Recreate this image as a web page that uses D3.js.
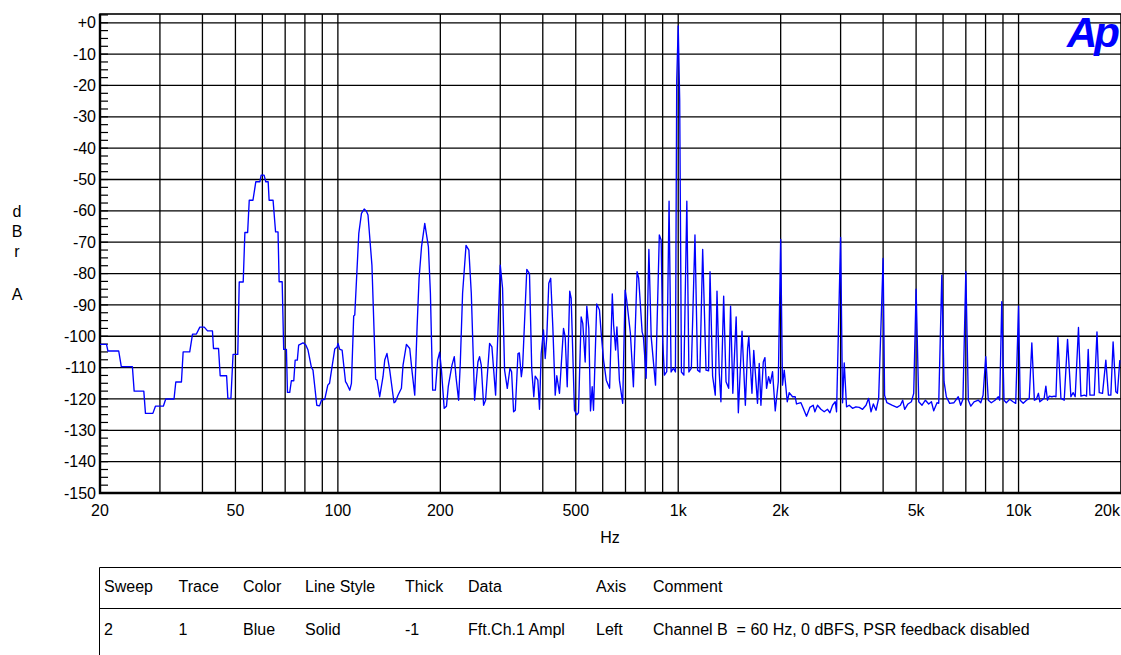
<!DOCTYPE html>
<html>
<head>
<meta charset="utf-8">
<script src="https://d3js.org/d3.v7.min.js"></script>
<style>
  body { margin: 0; background: #fff; }
  svg text { font-family: Arial, "Liberation Sans", sans-serif; font-size: 16px; fill: #000; }
</style>
</head>
<body>
<div id="chart"></div>
<script>
// FFT trace: frequency (Hz) and level (dBr A)
var traceHz = [20, 20.9, 21.1, 22.7, 23.1, 24.9, 25.2, 26.9, 27.2, 28.6, 29.1, 30.7, 31.2, 33.0, 33.4, 34.7, 35.1, 36.7, 37.4, 38.4,
  39.3, 40.5, 41.4, 42.8, 43.1, 44.6, 45.1, 47.1, 47.5, 48.5, 49.2, 50.8, 51.3, 52.7, 53.3, 54.3, 54.9, 56.3, 57.4, 59.0,
  59.5, 60.7, 61.4, 62.4, 62.8, 64.5, 65.6, 66.7, 67.2, 68.6, 69.3, 70.6, 71.1, 72.2, 73.0, 74.2, 74.9, 76.0, 76.7, 79.0,
  80.5, 81.7, 83.6, 84.5, 86.7, 88.3, 89.5, 91.5, 93.4, 94.5, 97.9, 99.5, 100.1, 101.3, 102.9, 105.3, 106.4, 108.4, 109.6, 111.3,
  112.1, 115.2, 117.3, 119.5, 121.3, 122.6, 125.9, 129.1, 130.3, 132.7, 135.7, 137.3, 139.4, 142.0, 146.2, 147.6, 150.2, 153.7, 155.4, 159.0,
  162.6, 165.2, 168.2, 170.9, 173.2, 176.1, 180, 184.5, 187.0, 189.9, 193.4, 196.4, 199.1, 201.5, 205.3, 208.5, 211.0, 216.4, 219.8, 222.3,
  226.3, 228.9, 232.5, 238, 242.6, 246.6, 252.2, 257.9, 260.8, 263.8, 268.0, 271.6, 279.1, 283.5, 290.7, 295.2, 300, 304.7, 308.9, 314.6,
  320.4, 323.9, 328.3, 332.1, 338.2, 341.3, 346.0, 349.0, 359, 365.6, 371.3, 376.4, 380.0, 386.8, 391.2, 395.7, 401.9, 406.6, 411.0, 416.6,
  422, 428.1, 435.1, 439.8, 447.9, 460.2, 465.5, 471.9, 480, 484.7, 495.6, 503.4, 509.2, 518.6, 524.3, 532.9, 538.7, 546.1, 552.4, 558.8,
  563.8, 576.2, 587.0, 593.9, 603.4, 614.6, 628.6, 640.2, 645.9, 654.7, 660.5, 671.7, 686.9, 698.1, 705.7, 723.6, 738.5, 757.1, 765.3, 783.3,
  790.3, 805.0, 820, 832.9, 857.6, 880, 891, 900.6, 911, 925.3, 940, 953, 968, 981.3, 990, 1000, 1010, 1021.9, 1039, 1060,
  1075, 1093, 1120, 1140, 1158, 1180, 1207, 1228, 1240, 1262, 1285, 1300, 1320, 1335, 1360, 1382, 1407, 1425, 1447, 1480,
  1502, 1530, 1540, 1575, 1599, 1612, 1647, 1667, 1710, 1730, 1750, 1778, 1798, 1818, 1843, 1864, 1893, 1928, 1968, 2000,
  2025, 2049, 2091, 2119, 2167, 2207, 2226, 2294, 2330, 2382, 2437, 2492, 2521, 2566, 2626, 2685, 2746, 2791, 2841, 2893,
  2919, 3000, 3040, 3075, 3123, 3180, 3252, 3328, 3404, 3481, 3563, 3626, 3686, 3744, 3813, 3881, 4000, 4040, 4104, 4246,
  4393, 4495, 4566, 4628, 4733, 4843, 4920, 5000, 5090, 5204, 5325, 5445, 5546, 5633, 5760, 5827, 5950, 6041, 6135, 6275,
  6460, 6650, 6760, 6865, 7000, 7120, 7240, 7400, 7620, 7745, 7866, 8010, 8150, 8317, 8528, 8720, 8803, 8927, 9063, 9205,
  9420, 9633, 9810, 10000, 10110, 10320, 10550, 10750, 10940, 11130, 11280, 11440, 11550, 11700, 11890, 12030, 12160, 12300, 12530, 12730,
  12880, 13050, 13320, 13620, 13930, 14250, 14470, 14670, 15000, 15250, 15600, 15840, 16020, 16210, 16690, 17000, 17260, 17650, 18050, 18370,
  18670, 18960, 19310, 19520, 19840];

var traceDb = [-102.6, -102.6, -104.7, -104.7, -109.7, -109.7, -117.5, -117.5, -124.6, -124.6, -122.3, -122.3, -120.0, -120.0, -114.6, -114.6, -105.0, -105.0, -99.3, -99.3,
  -97.1, -97.1, -98.3, -98.3, -103.9, -103.9, -112.6, -112.6, -119.8, -119.8, -105.8, -105.8, -82.7, -82.7, -66.9, -66.9, -56.6, -56.6, -50.7, -50.7,
  -48.6, -48.6, -50.7, -50.7, -56.6, -56.6, -66.7, -66.7, -82.6, -82.6, -104.2, -104.2, -117.9, -117.9, -114.2, -114.2, -107.6, -107.6, -102.8, -102.1,
  -102.8, -104.4, -109.9, -110.8, -122.0, -122.2, -120.4, -120.1, -115.6, -115.0, -104.1, -103.4, -102.3, -104.2, -104.4, -114.5, -115.3, -117.2, -115.0, -93.5,
  -93.2, -67.2, -60.8, -59.4, -60.1, -61.3, -77.3, -113.7, -114.0, -119.3, -112.9, -107.6, -105.5, -110.8, -121.2, -120.9, -118.8, -116.6, -109.2, -102.6,
  -103.9, -111.3, -118.8, -97.0, -81.5, -71.5, -64.0, -71.5, -86.3, -117.2, -117.2, -107.6, -105.1, -110.8, -123.0, -122.3, -116.1, -109.2, -106.5, -112.9,
  -120.4, -108.7, -86.3, -71.0, -72.5, -86.3, -120.4, -108.2, -106.5, -109.2, -122.0, -120.4, -102.3, -103.4, -118.8, -99.1, -77.3, -84.7, -110.8, -116.6,
  -110.2, -111.3, -124.1, -123.6, -105.5, -105.3, -112.9, -109.7, -78.7, -80.0, -110.8, -119.3, -112.7, -114.0, -123.3, -105.5, -98.0, -107.1, -100.2, -83.1,
  -81.5, -97.0, -118.8, -112.6, -118.2, -97.5, -100.2, -116.1, -85.6, -87.9, -123.6, -125.1, -124.4, -93.8, -95.9, -108.2, -90.4, -97.5, -123.8, -116.1,
  -123.6, -89.7, -91.6, -99.1, -107.6, -114.0, -116.6, -86.5, -96.4, -104.4, -97.0, -114.0, -121.4, -85.3, -88.5, -99.1, -116.1, -79.4, -81.5, -98.6,
  -100.2, -113.4, -72.3, -100.2, -115.6, -67.7, -69.3, -101.8, -112.4, -111.3, -56.9, -111.4, -110.2, -111.4, -18.3, -1.0, -24.7, -111.4, -112.4, -56.9,
  -111.4, -110.2, -67.7, -110.8, -111.4, -72.3, -110.8, -111.0, -79.4, -112.7, -118.8, -85.6, -111.8, -120.9, -87.2, -114.5, -116.6, -90.4, -118.2, -93.8,
  -124.4, -105.0, -98.4, -122.0, -103.9, -100.2, -118.2, -104.5, -121.4, -108.7, -122.0, -108.2, -106.8, -116.6, -112.9, -115.0, -111.3, -123.8, -114.5, -69.1,
  -115.6, -110.8, -120.9, -118.0, -119.3, -119.3, -121.6, -121.2, -123.0, -125.5, -122.7, -122.0, -124.1, -122.0, -123.3, -124.1, -123.3, -124.4, -122.0, -120.9,
  -124.1, -68.5, -121.2, -108.5, -122.5, -122.0, -123.0, -122.5, -122.7, -123.3, -122.0, -119.8, -124.1, -121.6, -123.6, -119.8, -75.2, -118.8, -121.2, -122.0,
  -122.7, -122.0, -120.4, -123.3, -121.6, -120.9, -118.2, -85.0, -120.9, -122.0, -120.4, -121.6, -120.9, -123.8, -121.2, -121.4, -80.5, -114.5, -119.3, -121.4,
  -121.2, -119.3, -122.0, -120.1, -79.4, -120.4, -122.3, -120.9, -120.4, -121.2, -118.8, -106.5, -120.4, -121.2, -120.4, -119.3, -120.4, -89.0, -120.4, -121.2,
  -120.1, -120.9, -121.4, -90.4, -120.4, -121.4, -120.4, -119.8, -102.1, -120.4, -120.1, -118.2, -120.9, -120.4, -119.8, -115.9, -120.4, -119.1, -119.3, -119.1,
  -119.3, -100.4, -119.8, -120.4, -101.0, -119.3, -118.0, -119.3, -97.2, -119.1, -118.8, -119.1, -104.2, -118.8, -118.8, -98.6, -118.0, -118.2, -107.6, -118.8,
  -118.8, -101.8, -117.7, -118.2, -107.6];

var yTickDb = [0, -10, -20, -30, -40, -50, -60, -70, -80, -90, -100, -110, -120, -130, -140, -150];
var yTickLabels = ["+0", "-10", "-20", "-30", "-40", "-50", "-60", "-70", "-80", "-90", "-100", "-110", "-120", "-130", "-140", "-150"];
var xGridHz = [30, 40, 50, 60, 70, 80, 90, 100, 200, 300, 400, 500, 600, 700, 800, 900,
  1000, 2000, 3000, 4000, 5000, 6000, 7000, 8000, 9000, 10000];
var xLabelHz = [20, 50, 100, 200, 500, 1000, 2000, 5000, 10000, 20000];
var xLabels = ["20", "50", "100", "200", "500", "1k", "2k", "5k", "10k", "20k"];
var tableHead = ["Sweep", "Trace", "Color", "Line Style", "Thick", "Data", "Axis", "Comment"];
var tableRow = ["2", "1", "Blue", "Solid", "-1", "Fft.Ch.1 Ampl", "Left", "Channel B  = 60 Hz, 0 dBFS, PSR feedback disabled"];

var width = 1121, height = 655;
var plotL = 100, plotR = 1121, plotT = 14, plotB = 493;

var svg = d3.select("#chart").append("svg")
  .attr("width", width)
  .attr("height", height);

var x = d3.scaleLog().domain([20, 20000]).range([plotL, plotR]);
var y = d3.scaleLinear().domain([-150, 2.8]).range([plotB, plotT]);

// grid
svg.append("g").selectAll("line")
  .data(yTickDb)
  .enter().append("line")
  .attr("x1", plotL).attr("x2", plotR)
  .attr("y1", function(d){ return y(d); })
  .attr("y2", function(d){ return y(d); })
  .style("stroke", "#000").style("stroke-width", 1.3);

svg.append("g").selectAll("line")
  .data(xGridHz)
  .enter().append("line")
  .attr("y1", plotT).attr("y2", plotB)
  .attr("x1", function(d){ return x(d); })
  .attr("x2", function(d){ return x(d); })
  .style("stroke", "#000").style("stroke-width", 1.3);

// minor ticks on the left axis, every 2.5 dB
svg.append("g").selectAll("line")
  .data(d3.range(-147.5, 2.6, 2.5))
  .enter().append("line")
  .attr("x1", plotL).attr("x2", plotL + 8)
  .attr("y1", function(d){ return y(d); })
  .attr("y2", function(d){ return y(d); })
  .style("stroke", "#000").style("stroke-width", 1.2);

// frame
svg.append("rect")
  .attr("x", plotL).attr("y", plotT)
  .attr("width", plotR - plotL).attr("height", plotB - plotT)
  .style("fill", "none").style("stroke", "#000").style("stroke-width", 1.6);
svg.append("path")
  .attr("d", "M" + plotL + "," + plotT + "V" + plotB + "H" + plotR)
  .style("fill", "none").style("stroke", "#000").style("stroke-width", 2.4);

// trace
svg.append("clipPath").attr("id", "plotClip")
  .append("rect").attr("x", plotL).attr("y", plotT)
  .attr("width", plotR - plotL).attr("height", plotB - plotT);

var line = d3.line()
  .x(function(d){ return x(traceHz[d]); })
  .y(function(d){ return y(traceDb[d]); });

svg.append("path")
  .datum(d3.range(traceHz.length))
  .attr("d", line)
  .attr("clip-path", "url(#plotClip)")
  .style("fill", "none")
  .style("stroke", "#0000ff")
  .style("stroke-width", 1.35)
  .style("stroke-linejoin", "round");

// y labels
svg.append("g").selectAll("text")
  .data(yTickDb)
  .enter().append("text")
  .attr("x", 96)
  .attr("y", function(d){ return y(d); })
  .attr("dy", "0.35em")
  .style("text-anchor", "end")
  .text(function(d, i){ return yTickLabels[i]; });

// x labels
svg.append("g").selectAll("text")
  .data(xLabelHz)
  .enter().append("text")
  .attr("x", function(d, i){ return i === xLabelHz.length - 1 ? 1120 : x(d); })
  .attr("y", 516)
  .style("text-anchor", function(d, i){ return i === xLabelHz.length - 1 ? "end" : "middle"; })
  .text(function(d, i){ return xLabels[i]; });

svg.append("text").attr("x", 610).attr("y", 543)
  .style("text-anchor", "middle").text("Hz");

// stacked unit label
var unit = svg.append("text").style("text-anchor", "middle");
[["d", 217], ["B", 237], ["r", 257], ["A", 300]].forEach(function(c){
  unit.append("tspan").attr("x", 17).attr("y", c[1]).text(c[0]);
});

// Ap logo
svg.append("text")
  .attr("x", 1067).attr("y", 47)
  .style("font-size", "42px").style("font-weight", "bold").style("font-style", "italic")
  .style("letter-spacing", "-3px")
  .style("fill", "#0000ff")
  .text("Ap");

// table
var colX = [104, 178.5, 243, 305, 405, 468, 596, 653];
svg.append("path")
  .attr("d", "M99.5,655V567.5H1121M99.5,608.5H1121")
  .style("fill", "none").style("stroke", "#000").style("stroke-width", 1);

svg.append("g").selectAll("text")
  .data(tableHead)
  .enter().append("text")
  .attr("x", function(d, i){ return colX[i]; })
  .attr("y", 592)
  .text(function(d){ return d; });

svg.append("g").selectAll("text")
  .data(tableRow)
  .enter().append("text")
  .attr("x", function(d, i){ return colX[i]; })
  .attr("y", 635)
  .style("white-space", "pre")
  .text(function(d){ return d; });
</script>
</body>
</html>
